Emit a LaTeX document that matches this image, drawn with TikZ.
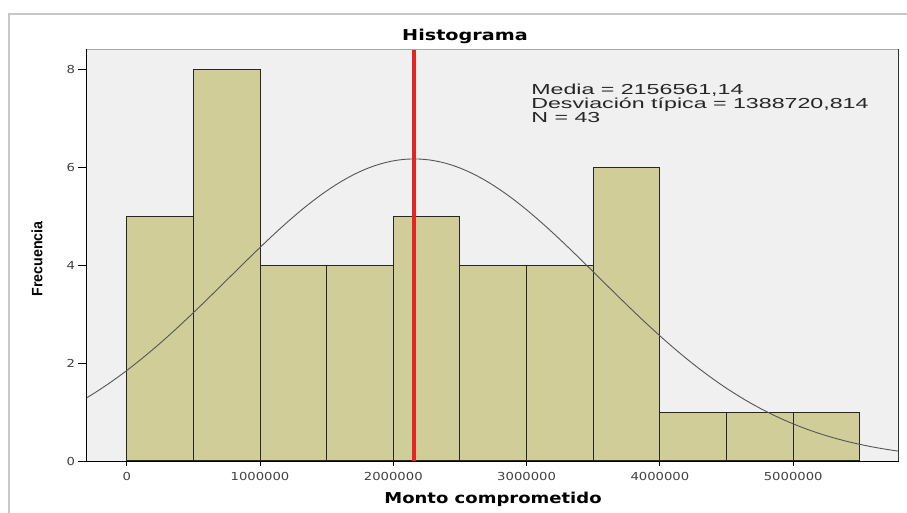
\documentclass[tikz,border=0pt]{standalone}
\usepackage{fontspec}
\setmainfont{Liberation Sans}
\newfontfamily\dejavu{DejaVu Sans}
\usetikzlibrary{calc}

\definecolor{barfill}{RGB}{209,205,152}
\definecolor{plotbg}{RGB}{240,240,240}
\definecolor{meanred}{RGB}{228,38,32}
\definecolor{framegray}{RGB}{200,200,200}
\definecolor{curvegray}{RGB}{85,85,85}

\tikzset{
  bar/.style={draw=black!85,line width=1pt,fill=barfill},
  ticklabel/.style={font=\dejavu\fontsize{11}{11}\selectfont,text=black!75,xscale=1.2,inner sep=0pt},
  axistitle/.style={font=\dejavu\bfseries\fontsize{15}{15}\selectfont,inner sep=0pt},
}

\begin{document}
\begin{tikzpicture}[x=1pt,y=1pt]
\useasboundingbox (0,0) rectangle (907,513);
% outer frame
\draw[framegray,line width=1.2pt] (9,-5) -- (9,499) -- (912,499);

\begin{scope}[shift={(126.7,52)},x=133.3pt,y=48.9pt]
% plot area
\fill[plotbg] (-0.305,0) rectangle (5.79,8.43);

% bars
\foreach \f [count=\i from 0] in {5,8,4,4,5,4,4,6,1,1,1}
  \draw[bar] ({\i*0.5},0) rectangle ({\i*0.5+0.5},\f);

% normal curve
\draw[curvegray,line width=0.9pt,domain=-0.305:5.79,samples=150]
  plot (\x,{6.176*exp(-((\x-2.1566)^2)/(2*1.38872^2))});

% mean
\draw[meanred,line width=4pt] (2.1566,0) -- (2.1566,8.43);

% frame of the plot
\draw[gray!70] (-0.305,8.43) -- (5.79,8.43);
\draw[black!80] (5.79,8.43) -- (5.79,0);
\draw[black,line width=0.9pt] (-0.305,8.43) -- (-0.305,0) -- (5.79,0);

% ticks
\foreach \v in {0,2,4,6,8}
  \draw[black,line width=0.9pt] (-0.305,\v) -- ++(-8pt,0) node[ticklabel,left=2pt] (yl\v) {\v};
\foreach \v/\t in {0/0,1/1000000,2/2000000,3/3000000,4/4000000,5/5000000}
  \draw[black,line width=0.9pt] (\v,0) -- ++(0,-5pt) node[ticklabel,below=6pt] (xl\v) {\t};
\end{scope}

% titles
\node[axistitle,xscale=1.28] (title) at (465,477) {Histograma};
\node[axistitle,xscale=1.2] (xtitle) at (493,14) {Monto comprometido};
\node[font=\bfseries\fontsize{15}{15}\selectfont,inner sep=0pt,rotate=90,xscale=0.95] (ytitle) at (37,254) {Frecuencia};

% statistics
\node[anchor=north west,align=left,inner sep=0pt,text=black!85,xscale=1.6,
  font=\fontsize{14.5}{12.5}\selectfont] (stats) at (531,429)
  {Media = 2156561,14\\Desviación típica = 1388720,814\\N = 43};
\end{tikzpicture}
\end{document}
